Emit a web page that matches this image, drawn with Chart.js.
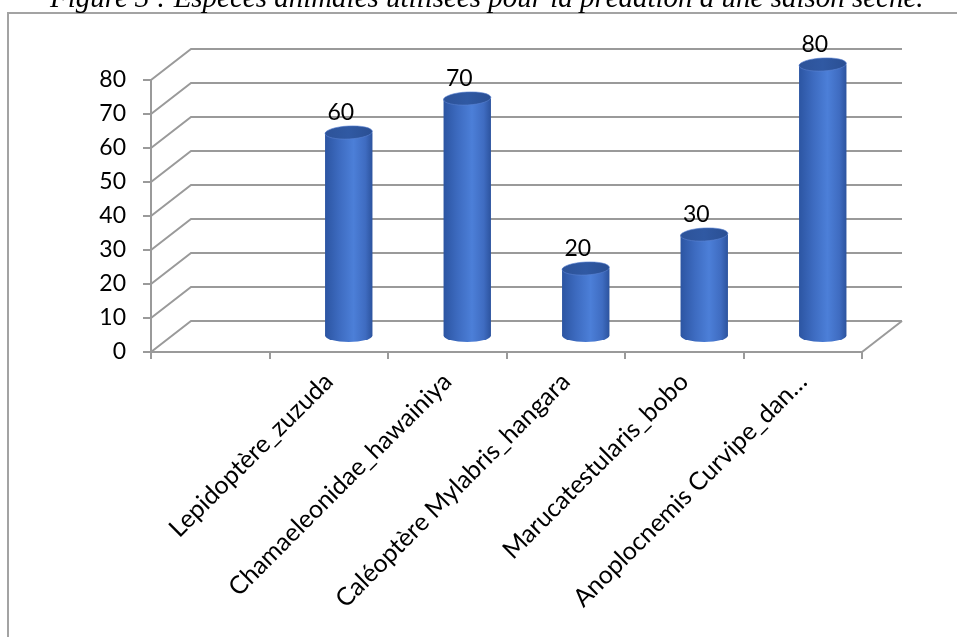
<!DOCTYPE html>
<html>
<head>
<meta charset="utf-8">
<script src="https://cdn.jsdelivr.net/npm/chart.js@4/dist/chart.umd.min.js"></script>
<style>
  html, body { margin: 0; padding: 0; background: #fff; overflow: hidden; }
  #wrap { position: relative; width: 957px; height: 637px; overflow: hidden; }
  #frame { position: absolute; left: 7px; top: 12px; width: 980px; height: 660px;
           border: 2px solid #a3a3a3; box-sizing: border-box; }
  #chart { position: absolute; left: 0; top: 0; }
</style>
</head>
<body>
<div id="wrap">
  <div id="frame"></div>
  <canvas id="chart" width="957" height="637"></canvas>
</div>
<script>
// Prey species recorded during the dry season (first axis slot left empty)
const categories = [
  '',
  'Lepidoptère_zuzuda',
  'Chamaeleonidae_hawainiya',
  'Caléoptère Mylabris_hangara',
  'Marucatestularis_bobo',
  'Anoplocnemis Curvipe_dan…'
];
const counts = [null, 60, 70, 20, 30, 80];
const yMin = 0;
const yMax = 80;
const yStep = 10;
const captionText = 'Figure 3 : Espèces animales utilisées pour la prédation à une saison sèche.';

// 3D depth of the walls / floor (pixels)
const DEPTH_X = 40;
const DEPTH_Y = -31;
const LINE_GREY = '#9a9a9a';
const NUM_FONT = { family: 'Lato', size: 23 };
const CAT_FONT = { family: 'Lato', size: 25 };

// Caption above the frame
const captionPlugin = {
  id: 'caption',
  afterDraw(chart) {
    const ctx = chart.ctx;
    ctx.save();
    ctx.font = 'italic 100px "Liberation Serif"';
    const w = ctx.measureText(captionText).width;
    const size = 100 * 874 / w;
    ctx.font = `italic ${size}px "Liberation Serif"`;
    ctx.fillStyle = '#000';
    ctx.textBaseline = 'alphabetic';
    ctx.textAlign = 'left';
    ctx.fillText(captionText, 50, 7);
    ctx.restore();
  }
};

// Back wall, side wall and floor edges
const wallsPlugin = {
  id: 'walls',
  beforeDatasetsDraw(chart) {
    const { ctx, chartArea, scales } = chart;
    const y = scales.y;
    ctx.save();
    ctx.strokeStyle = LINE_GREY;
    ctx.lineWidth = 2;
    y.ticks.forEach(t => {
      const py = y.getPixelForValue(t.value);
      ctx.beginPath();
      ctx.moveTo(chartArea.left, py);
      ctx.lineTo(chartArea.left + DEPTH_X, py + DEPTH_Y);
      ctx.lineTo(chartArea.right + DEPTH_X, py + DEPTH_Y);
      ctx.stroke();
    });
    // right edge of the floor
    ctx.beginPath();
    ctx.moveTo(chartArea.right, chartArea.bottom);
    ctx.lineTo(chartArea.right + DEPTH_X, chartArea.bottom + DEPTH_Y);
    ctx.stroke();
    ctx.restore();
  }
};

// Cylinders and their value labels
const cylinderPlugin = {
  id: 'cylinders',
  afterDatasetsDraw(chart) {
    const ctx = chart.ctx;
    const meta = chart.getDatasetMeta(0);
    meta.data.forEach((bar, i) => {
      const v = counts[i];
      if (v === null || v === undefined) return;
      const cx = bar.x + DEPTH_X / 2;
      const topY = bar.y + DEPTH_Y / 2;
      const baseY = bar.base + DEPTH_Y / 2;
      const rx = bar.width / 2;
      const ry = 6.5;
      ctx.save();
      // body
      const g = ctx.createLinearGradient(cx - rx, 0, cx + rx, 0);
      g.addColorStop(0, '#2c55a2');
      g.addColorStop(0.3, '#3d6bc0');
      g.addColorStop(0.6, '#4c7fd8');
      g.addColorStop(0.85, '#3f6cc1');
      g.addColorStop(1, '#2c539e');
      ctx.beginPath();
      ctx.moveTo(cx - rx, topY);
      ctx.lineTo(cx - rx, baseY);
      ctx.ellipse(cx, baseY, rx, ry, 0, Math.PI, 0, true);
      ctx.lineTo(cx + rx, topY);
      ctx.closePath();
      ctx.fillStyle = g;
      ctx.fill();
      // top cap
      const tg = ctx.createLinearGradient(cx - rx, topY, cx + rx, topY);
      tg.addColorStop(0, '#2d5399');
      tg.addColorStop(0.5, '#3059a3');
      tg.addColorStop(1, '#2a4f93');
      ctx.beginPath();
      ctx.ellipse(cx, topY, rx, ry, -0.05, 0, Math.PI * 2);
      ctx.fillStyle = tg;
      ctx.fill();
      ctx.strokeStyle = 'rgba(90,130,210,0.6)';
      ctx.lineWidth = 1;
      ctx.stroke();
      // value label
      ctx.font = `${NUM_FONT.size}px ${NUM_FONT.family}`;
      ctx.fillStyle = '#000';
      ctx.textAlign = 'center';
      ctx.textBaseline = 'middle';
      ctx.fillText(String(v), bar.x + 12, bar.y - 35);
      ctx.restore();
    });
  }
};

new Chart(document.getElementById('chart'), {
  type: 'bar',
  data: {
    labels: categories,
    datasets: [{
      data: counts,
      backgroundColor: 'rgba(0,0,0,0)',
      borderWidth: 0,
      barPercentage: 0.4,
      categoryPercentage: 1
    }]
  },
  options: {
    responsive: false,
    animation: false,
    devicePixelRatio: 1,
    layout: { padding: { top: 80, right: 95, left: 0, bottom: 0 } },
    plugins: { legend: { display: false }, tooltip: { enabled: false }, title: { display: false } },
    scales: {
      x: {
        type: 'category',
        offset: true,
        grid: { offset: true, drawOnChartArea: false, drawTicks: true, tickLength: 7, color: LINE_GREY, lineWidth: 2 },
        border: { display: true, color: LINE_GREY, width: 2 },
        ticks: { minRotation: 45, maxRotation: 45, autoSkip: false, color: '#000', font: CAT_FONT, padding: 8 },
        afterFit(scale) { scale.height = 285; }
      },
      y: {
        min: yMin,
        max: yMax,
        grid: { drawOnChartArea: false, drawTicks: true, tickLength: 8, color: LINE_GREY, lineWidth: 2 },
        border: { display: true, color: LINE_GREY, width: 2 },
        ticks: { stepSize: yStep, color: '#000', font: NUM_FONT, padding: 17 },
        afterFit(scale) { scale.width = 151; }
      }
    }
  },
  plugins: [captionPlugin, wallsPlugin, cylinderPlugin]
});
</script>
</body>
</html>
